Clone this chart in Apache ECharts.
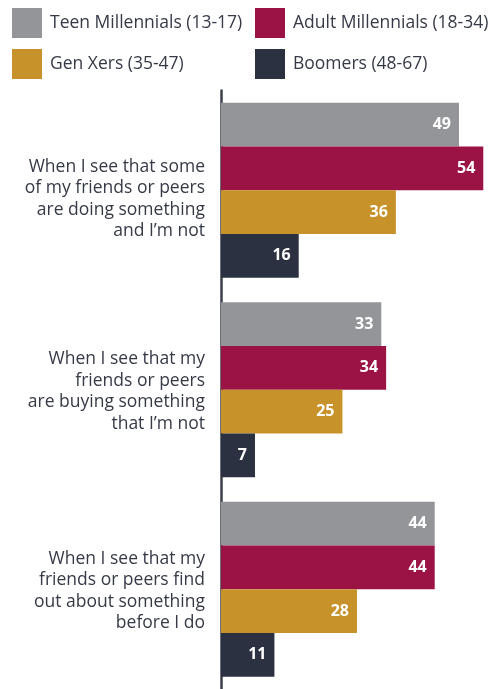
<!DOCTYPE html>
<html>
<head>
<meta charset="utf-8">
<script src="https://cdn.jsdelivr.net/npm/echarts@6/dist/echarts.min.js"></script>
<style>
  html, body { margin: 0; padding: 0; background: #fff; }
  #chart { width: 501px; height: 689px; }
</style>
</head>
<body>
<div id="chart"></div>
<script>
// Reasons for FOMO, share of each generation (%)
const categories = [
  'When I see that some\nof my friends or peers\nare doing something\nand I’m not',
  'When I see that my\nfriends or peers\nare buying something\nthat I’m not',
  'When I see that my\nfriends or peers find\nout about something\nbefore I do'
];
const seriesNames = [
  'Teen Millennials (13-17)',
  'Adult Millennials (18-34)',
  'Gen Xers (35-47)',
  'Boomers (48-67)'
];
const teenMillennials = [49, 33, 44];
const adultMillennials = [54, 34, 44];
const genXers = [36, 25, 28];
const boomers = [16, 7, 11];

const colors = ['#939598', '#9b1244', '#c8922a', '#2b3140'];
const values = [teenMillennials, adultMillennials, genXers, boomers];
const fontFamily = '"Open Sans", "DejaVu Sans", sans-serif';
const textColor = '#363a47';

// One legend block per series, laid out as a 2 x 2 grid
const legendSpots = [[12, 8], [255, 8], [12, 49], [255, 49]];
const legends = seriesNames.map((name, i) => ({
  left: legendSpots[i][0],
  top: legendSpots[i][1],
  padding: 0,
  itemWidth: 30,
  itemHeight: 30,
  icon: 'rect',
  data: [name],
  textStyle: {
    fontFamily: fontFamily,
    fontSize: 17.5,
    color: textColor,
    padding: [0, 0, 0, 3]
  }
}));

const chart = echarts.init(document.getElementById('chart'), null, { renderer: 'canvas' });

chart.setOption({
  animation: false,
  color: colors,
  legend: legends,
  grid: {
    left: 221,
    top: 90.5,
    width: 272,
    height: 601.5,
    containLabel: false
  },
  xAxis: {
    type: 'value',
    min: 0,
    max: 56,
    show: false
  },
  yAxis: {
    type: 'category',
    inverse: true,
    data: categories,
    axisLine: { show: true, lineStyle: { color: '#3a3f4a', width: 2.5 } },
    axisTick: { show: false },
    axisLabel: {
      margin: 16,
      fontFamily: fontFamily,
      fontSize: 17.5,
      lineHeight: 21.5,
      color: textColor,
      align: 'right',
      // a thin spacer line on top nudges each question down within its band
      formatter: (value, index) => (index === 0 ? '{big| }\n' : '{small| }\n') + value,
      rich: {
        big: { fontSize: 1, lineHeight: 18 },
        small: { fontSize: 1, lineHeight: 4 }
      }
    }
  },
  series: seriesNames.map((name, i) => ({
    name: name,
    type: 'bar',
    data: values[i],
    barGap: '0%',
    barCategoryGap: '12.2%',
    itemStyle: { color: colors[i] },
    label: {
      show: true,
      position: 'insideRight',
      distance: 8,
      color: '#ffffff',
      fontFamily: fontFamily,
      fontWeight: 'bold',
      fontSize: 16
    }
  }))
});
</script>
</body>
</html>
